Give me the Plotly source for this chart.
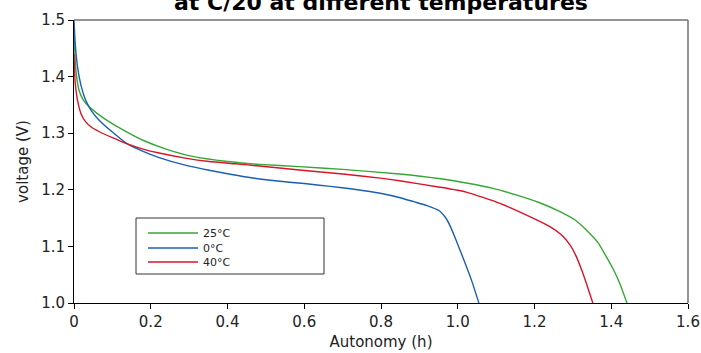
import plotly.graph_objects as go

# ---- data ----
x_25 = [0, 0.004, 0.013, 0.025, 0.039, 0.06, 0.091, 0.13, 0.178, 0.24, 0.309, 0.4, 0.483, 0.587, 0.7,
        0.848, 0.95, 1.022, 1.09, 1.152, 1.21, 1.265, 1.305, 1.335, 1.365, 1.387, 1.405, 1.422, 1.441]
v_25 = [1.49, 1.418, 1.376, 1.358, 1.347, 1.335, 1.3205, 1.305, 1.288, 1.272, 1.259, 1.250, 1.245, 1.241, 1.236,
        1.228, 1.220, 1.212, 1.203, 1.191, 1.178, 1.162, 1.147, 1.129, 1.107, 1.082, 1.06, 1.035, 1.0]

x_0 = [0, 0.003, 0.009, 0.018, 0.030, 0.045, 0.065, 0.1, 0.135, 0.18, 0.222, 0.29, 0.352, 0.407, 0.47,
       0.537, 0.6, 0.668, 0.73, 0.798, 0.85, 0.885, 0.92, 0.952, 0.968, 0.981, 0.998, 1.016, 1.036, 1.055]
v_0 = [1.5, 1.46, 1.418, 1.385, 1.359, 1.34, 1.3235, 1.302, 1.283, 1.268, 1.257, 1.2435, 1.2345, 1.2275, 1.2205,
       1.215, 1.211, 1.206, 1.201, 1.194, 1.186, 1.179, 1.172, 1.163, 1.151, 1.135, 1.107, 1.076, 1.04, 1.0]

x_40 = [0, 0.003, 0.009, 0.018, 0.030, 0.045, 0.065, 0.1, 0.135, 0.18, 0.222, 0.29, 0.352, 0.42, 0.483,
        0.587, 0.7, 0.798, 0.848, 0.95, 1.022, 1.11, 1.196, 1.24, 1.274, 1.295, 1.309, 1.322, 1.335, 1.352]
v_40 = [1.44, 1.39, 1.359, 1.335, 1.3205, 1.311, 1.303, 1.292, 1.282, 1.272, 1.265, 1.256, 1.250, 1.246, 1.242,
        1.235, 1.228, 1.2206, 1.216, 1.205, 1.196, 1.176, 1.150, 1.135, 1.118, 1.100, 1.082, 1.06, 1.035, 1.0]

series_names = ["25°C", "0°C", "40°C"]
series_colors = ["#35a834", "#1b5fb3", "#d81428"]

x_ticks = [0, 0.2, 0.4, 0.6, 0.8, 1.0, 1.2, 1.4, 1.6]
x_tick_labels = ["0", "0.2", "0.4", "0.6", "0.8", "1.0", "1.2", "1.4", "1.6"]
y_ticks = [1.0, 1.1, 1.2, 1.3, 1.4, 1.5]
y_tick_labels = ["1.0", "1.1", "1.2", "1.3", "1.4", "1.5"]

title_text = "at C/20 at different temperatures"

FONT = "DejaVu Sans"

W, H = 701, 353
ml, mr, mt, mb = 74, 13, 20, 50
ph = H - mt - mb
pw = W - ml - mr

legend_ids = ["legend", "legend2", "legend3"]
legend_rows_px = [233, 248, 262]

fig = go.Figure()
for xs, vs, name, col, lid in zip([x_25, x_0, x_40], [v_25, v_0, v_40], series_names, series_colors, legend_ids):
    fig.add_trace(go.Scatter(x=xs, y=vs, mode="lines", name=name, legend=lid,
                             line=dict(color=col, width=1.4, shape="spline", smoothing=0.5)))

legend_common = dict(xanchor="left", yanchor="middle", bgcolor="rgba(0,0,0,0)", borderwidth=0,
                     font=dict(size=11, family=FONT, color="#222222"), itemwidth=50)
legend_layout = {}
for lid, rowpx in zip(legend_ids, legend_rows_px):
    legend_layout[lid] = dict(x=(143 - ml) / pw, y=(H - mb - rowpx) / ph, **legend_common)

fig.update_layout(
    width=W, height=H,
    margin=dict(l=ml, r=mr, t=mt, b=mb, autoexpand=False),
    paper_bgcolor="white", plot_bgcolor="white",
    font=dict(family=FONT, color="#222222"),
    showlegend=True,
    **legend_layout,
    xaxis=dict(range=[0, 1.6], tickvals=x_ticks, ticktext=x_tick_labels, automargin=False,
               showgrid=False, zeroline=False, showline=True, linecolor="#000000", linewidth=1,
               ticks="outside", ticklen=5, tickcolor="#000000",
               tickfont=dict(size=15, family=FONT, color="#222222"),
               title=dict(text="Autonomy (h)", font=dict(size=15, family=FONT, color="#222222"), standoff=6)),
    yaxis=dict(range=[1.0, 1.5], tickvals=y_ticks, ticktext=y_tick_labels, automargin=False,
               showgrid=False, zeroline=False, showline=True, linecolor="#000000", linewidth=1,
               ticks="outside", ticklen=5, tickcolor="#000000",
               tickfont=dict(size=15, family=FONT, color="#222222"),
               title=dict(text="voltage (V)", font=dict(size=15, family=FONT, color="#222222"), standoff=8)),
    annotations=[dict(text="<b>" + title_text + "</b>", xref="paper", yref="paper",
                      x=0.5, y=1 + 17.5 / ph, xanchor="center", yanchor="middle", showarrow=False,
                      font=dict(size=22, family=FONT, color="#000000"))],
    shapes=[
        dict(type="line", xref="paper", yref="paper", x0=0, x1=1, y0=1, y1=1,
             line=dict(color="#707070", width=1.5)),
        dict(type="line", xref="paper", yref="paper", x0=1, x1=1, y0=0, y1=1,
             line=dict(color="#707070", width=1.5)),
        dict(type="rect", xref="paper", yref="paper",
             x0=(136 - ml) / pw, x1=(324 - ml) / pw,
             y0=(H - mb - 274) / ph, y1=(H - mb - 218) / ph,
             line=dict(color="#333333", width=1), fillcolor="rgba(0,0,0,0)"),
    ],
)

fig.write_html("out.html", config={"displayModeBar": False},
               post_script="document.body.style.margin='0px';document.body.style.overflow='hidden';")
